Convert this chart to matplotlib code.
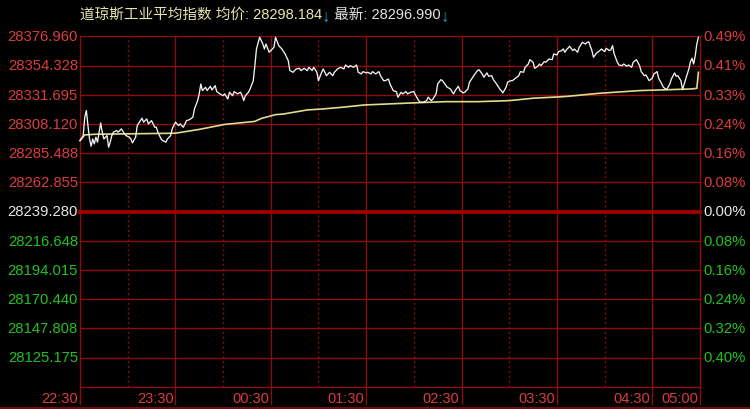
import matplotlib
matplotlib.use("Agg")
import matplotlib.pyplot as plt
import matplotlib.transforms as mtransforms
from matplotlib.lines import Line2D

# ---------------- data ----------------
BASE = 28239.280
TOP = 28376.960
labels_up = ["28376.960", "28354.328", "28331.695", "28308.120", "28285.488", "28262.855"]
labels_down = ["28216.648", "28194.015", "28170.440", "28147.808", "28125.175"]
pct_up = ["0.49%", "0.41%", "0.33%", "0.24%", "0.16%", "0.08%"]
pct_down = ["0.08%", "0.16%", "0.24%", "0.32%", "0.40%"]
time_labels = ["22:30", "23:30", "00:30", "01:30", "02:30", "03:30", "04:30", "05:00"]
time_ticks = [0, 60, 120, 180, 240, 300, 360, 390]
half_ticks = [30, 90, 150, 210, 270, 330]

title_name = "道琼斯工业平均指数"
avg_label = "均价: 28298.184"
last_label = "最新: 28296.990"

price_min = [0, 2, 3, 4, 5, 6, 7, 8, 9, 10, 11, 13, 14, 15, 17, 18, 19, 20, 21, 23,
             24, 26, 28, 29, 31, 32, 33, 35, 36, 39, 40, 42, 43, 45, 47, 48, 49, 51, 52, 54,
             55, 57, 58, 60, 62, 63, 65, 67, 69, 71, 72, 74, 75, 76,
             77, 79, 80, 82, 83, 85, 86, 88, 90, 91, 93, 94, 96, 97, 99, 101, 102, 103, 104, 106,
             107, 109, 110, 111, 113, 115, 116, 117, 119, 120, 122, 123, 125, 127, 129, 131, 132, 134, 136, 138,
             139, 141, 143, 144, 146, 147, 149, 150, 152, 153,
             155, 157, 159, 160, 162, 164, 166, 167, 169, 170, 172, 174, 175, 177, 178, 180, 181, 183, 184, 186,
             188, 189, 191, 192, 194, 195, 197, 199, 200, 202, 203, 205, 206, 208, 210, 211, 213, 214, 216, 218,
             219, 221, 222, 224, 225, 227,
             228, 230, 231, 233, 234, 235, 236, 238, 239, 241, 242, 244, 245, 247, 248, 250, 251, 253, 254, 256,
             257, 259, 260, 262, 264, 265, 266, 268, 269, 271, 272, 274, 276, 277, 279, 280, 282, 283, 285, 286,
             288, 289, 290, 292, 293, 295, 297, 298, 300, 301, 303, 304,
             305, 306, 308, 310, 311, 313, 314, 316, 318, 319, 320, 322, 323, 325, 327, 328, 330, 331, 333, 334,
             335, 336, 338, 339, 341, 342, 344, 345, 347, 348, 350, 352, 353, 355, 356, 358, 360, 361, 363, 364,
             366, 367, 369, 371, 372, 374, 375, 376, 378, 379, 381, 383, 384, 385, 386, 387, 388, 389]

price_val = [28295.0, 28298.9, 28313.4, 28318.6, 28306.8, 28296.3, 28290.6, 28296.3, 28292.4, 28297.7,
             28293.8, 28308.9, 28301.6, 28296.3, 28298.9, 28289.8, 28293.8, 28298.9, 28301.6, 28302.9,
             28301.6, 28304.2, 28300.3, 28298.9, 28297.7, 28296.3, 28293.2, 28297.7, 28306.8, 28312.6,
             28309.5, 28312.0, 28308.1, 28310.7, 28305.5, 28305.5, 28301.6, 28296.3, 28295.0, 28293.8,
             28296.3, 28298.9, 28304.2, 28309.5, 28306.8, 28308.1, 28305.5, 28310.7, 28311.5, 28313.4,
             28319.9, 28326.4, 28331.7, 28339.5,
             28334.3, 28336.9, 28334.3, 28337.7, 28334.8, 28338.2, 28333.5, 28331.7, 28330.3, 28331.7,
             28327.7, 28333.0, 28330.3, 28333.5, 28331.7, 28333.0, 28330.3, 28326.4, 28330.3, 28333.0,
             28335.6, 28342.1, 28353.9, 28367.0, 28376.2, 28370.9, 28367.0, 28370.9, 28364.4, 28365.7,
             28368.3, 28376.2, 28369.6, 28367.0, 28363.1, 28357.8, 28350.0, 28348.7, 28351.3, 28351.8,
             28350.0, 28351.8, 28350.0, 28352.6, 28350.0, 28352.6, 28348.7, 28342.1, 28348.7, 28351.3,
             28346.0, 28348.7, 28346.0, 28348.7, 28351.3, 28352.6, 28351.3, 28354.4, 28352.6, 28353.9,
             28352.6, 28354.4, 28348.7, 28347.4, 28349.2, 28348.2, 28348.7, 28347.4, 28349.2, 28347.4,
             28349.2, 28346.0, 28342.1, 28342.1, 28343.4, 28339.5, 28334.3, 28333.5, 28329.1, 28333.0,
             28331.7, 28333.5, 28331.7, 28333.0, 28333.5, 28330.9, 28326.4, 28325.2, 28325.2, 28326.4,
             28329.1, 28326.4, 28327.7, 28331.7, 28339.5, 28342.9,
             28342.1, 28338.7, 28336.9, 28335.6, 28333.5, 28331.7, 28334.3, 28337.7, 28334.3, 28332.5,
             28333.0, 28335.6, 28340.9, 28344.8, 28346.6, 28350.0, 28350.7, 28347.4, 28344.8, 28348.2,
             28345.6, 28346.0, 28342.9, 28339.5, 28335.6, 28334.3, 28332.5, 28336.9, 28340.9, 28342.1,
             28342.1, 28344.0, 28346.0, 28349.2, 28348.7, 28352.6, 28355.2, 28358.6, 28356.6, 28351.8,
             28353.4, 28355.2, 28353.9, 28357.0, 28356.6, 28359.1, 28358.6, 28363.1, 28362.3, 28364.9,
             28365.7, 28367.0,
             28364.4, 28366.4, 28369.1, 28365.7, 28367.0, 28364.4, 28368.3, 28372.2, 28370.9, 28372.2,
             28372.7, 28365.7, 28360.5, 28363.9, 28365.7, 28367.0, 28364.9, 28367.5, 28365.7, 28366.4,
             28369.6, 28363.1, 28356.6, 28354.4, 28353.9, 28355.2, 28353.4, 28354.4, 28352.6, 28356.6,
             28358.6, 28353.9, 28349.2, 28346.0, 28346.6, 28342.1, 28344.0, 28347.4, 28349.2, 28344.0,
             28339.5, 28336.9, 28335.0, 28339.5, 28343.4, 28348.2, 28345.6, 28346.0, 28342.1, 28335.0,
             28343.4, 28351.3, 28357.0, 28359.7, 28355.2, 28361.7, 28370.9, 28376.2]

avg_min = [0, 3, 10, 30, 60, 75, 91, 110, 114, 123, 128, 143, 153, 165, 179, 209, 230, 250,
           270, 285, 305, 327, 352, 385, 388, 389]
avg_val = [28295.0, 28299.5, 28300.0, 28300.3, 28300.8, 28303.8, 28307.7, 28310.1, 28312.4,
           28315.4, 28315.9, 28319.1, 28319.9, 28321.2, 28323.0, 28324.6, 28325.6, 28325.6,
           28326.4, 28328.3, 28329.6, 28332.2, 28334.3, 28335.6, 28336.1, 28348.7]

# ---------------- style ----------------
BG = "#000000"
GRID = "#8e0c0c"
ZERO = "#a80000"
RED_TXT = "#dc3c3c"
GREEN_TXT = "#22c022"
WHITE_TXT = "#e6e6e6"
FONT = ["Liberation Sans", "Noto Sans CJK SC", "DejaVu Sans"]
plt.rcParams["font.family"] = FONT

W, H = 750, 410
fig = plt.figure(figsize=(W / 100, H / 100), dpi=100, facecolor=BG)
ax_l, ax_r, ax_t, ax_b = 80, 700, 37.3, 387.7
ax = fig.add_axes([ax_l / W, 1 - ax_b / H, (ax_r - ax_l) / W, (ax_b - ax_t) / H])
ax.set_facecolor(BG)

step = (TOP - BASE) / 6
ax.set_xlim(0, 390)
ax.set_ylim(BASE - 6 * step, TOP)
ax.set_xticks([])
ax.set_yticks([])
ax.spines["top"].set_visible(False)
for s in ["left", "right", "bottom"]:
    ax.spines[s].set_color(GRID)
    ax.spines[s].set_linewidth(1.0)

# horizontal grid
for k in range(-5, 7):
    lvl = BASE + k * step
    if k == 0:
        ax.axhline(lvl, color=ZERO, lw=2.6, zorder=1, clip_on=False)
    else:
        ax.axhline(lvl, color=GRID, lw=1.0, zorder=1, clip_on=False)

# vertical grid
xtr = ax.get_xaxis_transform()
for t in time_ticks[1:-1]:
    ax.add_line(Line2D([t, t], [-0.05, 1], transform=xtr, color=GRID, lw=1.0,
                       clip_on=False, zorder=1))
for t in half_ticks:
    ax.axvline(t, color=GRID, lw=1.0, ls=(0, (1.5, 2.0)), zorder=1)
for t in [0, 390]:
    ax.add_line(Line2D([t, t], [-0.05, 0], transform=xtr, color=GRID, lw=1.0,
                       clip_on=False, zorder=1))

# data lines
ax.plot(avg_min, avg_val, color="#e0dc8c", lw=1.2, zorder=3, clip_on=False)
ax.plot(price_min, price_val, color="#f2f2f2", lw=0.95, zorder=4, clip_on=False)

# y labels
ytr_l = mtransforms.offset_copy(ax.get_yaxis_transform(), fig=fig, x=-2, y=0, units="dots")
ytr_r = mtransforms.offset_copy(ax.get_yaxis_transform(), fig=fig, x=3, y=0, units="dots")
FS = 10.7
for i, lab in enumerate(labels_up):
    lvl = BASE + (6 - i) * step
    ax.text(0, lvl, lab, transform=ytr_l, ha="right", va="center", color=RED_TXT, fontsize=FS)
    ax.text(1, lvl, pct_up[i], transform=ytr_r, ha="left", va="center", color=RED_TXT, fontsize=FS)
ax.text(0, BASE, "28239.280", transform=ytr_l, ha="right", va="center", color=WHITE_TXT, fontsize=FS)
ax.text(1, BASE, "0.00%", transform=ytr_r, ha="left", va="center", color=WHITE_TXT, fontsize=FS)
for i, lab in enumerate(labels_down):
    lvl = BASE - (i + 1) * step
    ax.text(0, lvl, lab, transform=ytr_l, ha="right", va="center", color=GREEN_TXT, fontsize=FS)
    ax.text(1, lvl, pct_down[i], transform=ytr_r, ha="left", va="center", color=GREEN_TXT, fontsize=FS)

# time labels
ttr = mtransforms.offset_copy(ax.get_xaxis_transform(), fig=fig, x=-2, y=-11, units="dots")
for t, lab in zip(time_ticks, time_labels):
    ax.text(t, 0, lab, transform=ttr, ha="right", va="center", color=RED_TXT, fontsize=10.5)

# bottom line of figure
fig.add_artist(Line2D([0, 1], [1.5 / H, 1.5 / H], transform=fig.transFigure, color=GRID, lw=1.2))

# title
fig.canvas.draw()
r = fig.canvas.get_renderer()
parts = [(title_name + " " + avg_label, "#e6e6b0", 10.5, 0),
         ("↓", "#1fa7b5", 12, -2),
         (" " + last_label, "#e2e2e2", 10.5, 0),
         ("↓", "#1fa7b5", 12, -2)]
x = 80
for s, c, fs, dy in parts:
    t = fig.text(x / W, 1 - (15 - dy) / H, s, color=c, fontsize=fs, ha="left", va="center",
                 family=FONT)
    bb = t.get_window_extent(renderer=r)
    x += bb.width

fig.savefig("out.png", dpi=100, facecolor=BG)
